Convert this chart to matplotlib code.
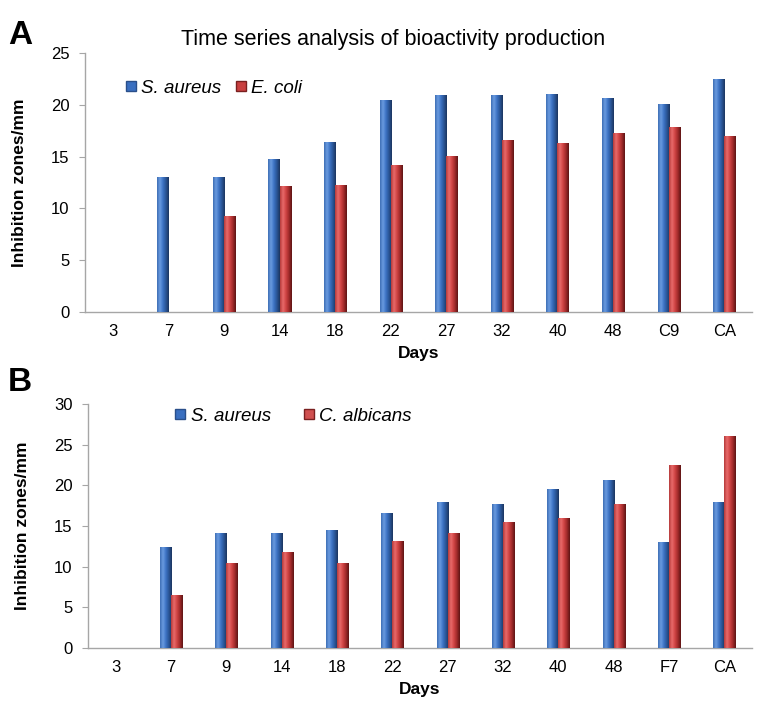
import numpy as np
import matplotlib
matplotlib.use("Agg")
import matplotlib.pyplot as plt
from matplotlib.colors import LinearSegmentedColormap
from matplotlib.lines import Line2D

plt.rcParams['font.family'] = ['Liberation Sans', 'DejaVu Sans']

days_a = ["3", "7", "9", "14", "18", "22", "27", "32", "40", "48", "C9", "CA"]
saureus_a = [0, 13.0, 13.0, 14.8, 16.4, 20.5, 20.9, 20.9, 21.0, 20.7, 20.1, 22.5]
ecoli_a = [0, 0, 9.3, 12.2, 12.3, 14.2, 15.1, 16.6, 16.3, 17.3, 17.9, 17.0]

days_b = ["3", "7", "9", "14", "18", "22", "27", "32", "40", "48", "F7", "CA"]
saureus_b = [0, 12.4, 14.2, 14.2, 14.5, 16.6, 18.0, 17.7, 19.5, 20.7, 13.0, 18.0]
calbicans_b = [0, 6.5, 10.5, 11.8, 10.5, 13.2, 14.1, 15.5, 16.0, 17.7, 22.5, 26.1]

blue_cmap = LinearSegmentedColormap.from_list(
    "b", ["#3E6FB5", "#6A9BE0", "#3C73C4", "#2A5596", "#1B355F"])
red_cmap = LinearSegmentedColormap.from_list(
    "r", ["#B53A3A", "#E86A6A", "#D04444", "#A02A2A", "#5E1414"])
BLUE = "#3A6FC0"
RED = "#C94040"

grad = np.linspace(0, 1, 64).reshape(1, -1)


def shade(ax, bars, cmap):
    for p in bars:
        h = p.get_height()
        if h <= 0:
            continue
        x0 = p.get_x()
        w = p.get_width()
        im = ax.imshow(grad, cmap=cmap, aspect='auto',
                       extent=(x0, x0 + w, 0, h), zorder=3,
                       interpolation='bilinear')
        im.set_clip_path(p)


def panel(ax, cats, s1, s2, cmap2, col2, ymax, ystep, lab2, leg_anchor, colsp):
    x = np.arange(len(cats))
    w = 0.2
    b1 = ax.bar(x - w / 2, s1, w, color=BLUE, zorder=2, linewidth=0)
    b2 = ax.bar(x + w / 2, s2, w, color=col2, zorder=2, linewidth=0)
    shade(ax, b1, blue_cmap)
    shade(ax, b2, cmap2)
    ax.set_xlim(-0.5, len(cats) - 0.5)
    ax.set_ylim(0, ymax)
    ax.set_yticks(np.arange(0, ymax + 0.1, ystep))
    ax.set_xticks(x)
    ax.set_xticklabels(cats)
    for s in ['top', 'right']:
        ax.spines[s].set_visible(False)
    for s in ['left', 'bottom']:
        ax.spines[s].set_color('#A6A6A6')
        ax.spines[s].set_linewidth(1.0)
    ax.tick_params(axis='y', length=4, color='#A6A6A6', labelsize=12, pad=7)
    ax.tick_params(axis='x', length=0, labelsize=12, pad=9)
    ax.set_xlabel("Days", fontsize=12.5, fontweight='bold', labelpad=5)
    ax.set_ylabel("Inhibition zones/mm", fontsize=12.5, fontweight='bold', labelpad=17)
    handles = [Line2D([], [], marker='s', linestyle='none', markersize=6.5,
                      markerfacecolor=BLUE, markeredgecolor='#2A4F8A'),
               Line2D([], [], marker='s', linestyle='none', markersize=6.5,
                      markerfacecolor=col2, markeredgecolor='#7A2020')]
    ax.legend(handles, ["S. aureus", lab2], ncol=2, frameon=False,
              loc='center left', bbox_to_anchor=leg_anchor,
              prop={'style': 'italic', 'size': 13.5},
              handletextpad=0.1, columnspacing=colsp, handlelength=0.9,
              borderaxespad=0)
    return ax


fig = plt.figure(figsize=(7.62, 7.13), dpi=100)
axA = fig.add_axes([85 / 762, 1 - 312 / 713, 667 / 762, 259 / 713])
axB = fig.add_axes([88 / 762, 1 - 648 / 713, 664 / 762, 244 / 713])

panel(axA, days_a, saureus_a, ecoli_a, red_cmap, RED, 25, 5, "E. coli",
      (0.045, 0.865), 0.6)
panel(axB, days_b, saureus_b, calbicans_b, red_cmap, "#D05050", 30, 5, "C. albicans",
      (0.115, 0.95), 1.6)

fig.text(393 / 762, 1 - 40 / 713, "Time series analysis of bioactivity production",
         ha='center', va='center', fontsize=15.5)
fig.text(8 / 762, 1 - 36 / 713, "A", fontsize=24, fontweight='bold', va='center', ha='left')
fig.text(8 / 762, 1 - 382 / 713, "B", fontsize=24, fontweight='bold', va='center', ha='left')

fig.savefig("out.png", dpi=100)
